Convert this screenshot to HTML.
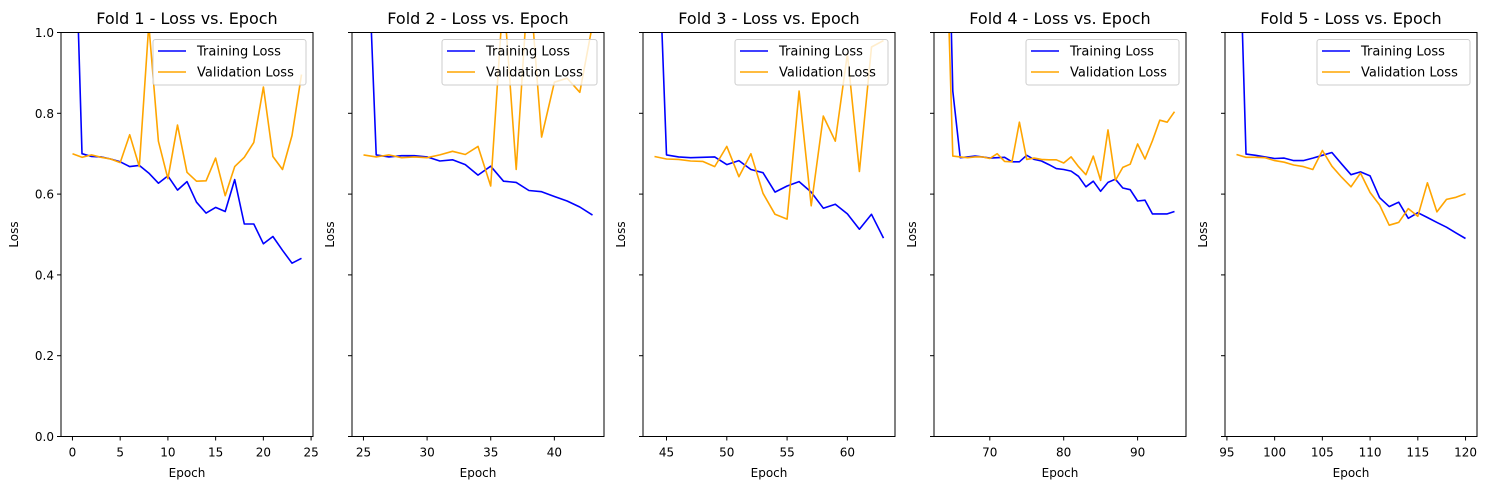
<!DOCTYPE html>
<html><head><meta charset="utf-8"><style>
html,body{margin:0;padding:0;background:#fff}
svg{display:block;font-family:"DejaVu Sans","Liberation Sans",sans-serif}
</style></head><body>
<svg id="chart" width="1487" height="490" viewBox="0 0 1487 490" xmlns="http://www.w3.org/2000/svg"></svg>
<script>
const foldStarts = [0, 25, 44, 64, 96];
const xTicks1 = [0,5,10,15,20,25];
const xTicks2 = [25,30,35,40];
const xTicks3 = [45,50,55,60];
const xTicks4 = [70,80,90];
const xTicks5 = [95,100,105,110,115,120];
const yTicks = [0.0,0.2,0.4,0.6,0.8,1.0];
const yTickLabels = ["0.0","0.2","0.4","0.6","0.8","1.0"];
const train1 = [1.5,0.70,0.693,0.692,0.687,0.68,0.668,0.671,0.652,0.627,0.645,0.61,0.631,0.58,0.553,0.567,0.557,0.636,0.526,0.526,0.477,0.495,0.461,0.429,0.441];
const val1 = [0.70,0.691,0.697,0.691,0.687,0.678,0.747,0.668,1.02,0.731,0.638,0.771,0.654,0.632,0.633,0.689,0.596,0.668,0.691,0.728,0.865,0.693,0.661,0.745,0.896];
const train2 = [1.5,0.697,0.692,0.695,0.695,0.692,0.682,0.685,0.673,0.647,0.669,0.632,0.629,0.609,0.606,0.594,0.583,0.568,0.548];
const val2 = [0.697,0.692,0.697,0.69,0.692,0.69,0.697,0.706,0.698,0.718,0.62,1.1,0.661,1.15,0.741,0.877,0.887,0.852,1.02];
const train3 = [1.5,0.697,0.692,0.69,0.691,0.692,0.673,0.683,0.661,0.653,0.605,0.62,0.631,0.605,0.565,0.575,0.551,0.513,0.55,0.491];
const val3 = [0.693,0.687,0.686,0.682,0.681,0.668,0.718,0.643,0.70,0.602,0.55,0.538,0.855,0.571,0.793,0.731,0.947,0.656,0.964,0.98];
const train4 = [1.6,0.855,0.69,0.692,0.694,0.692,0.689,0.69,0.691,0.68,0.68,0.696,0.686,0.682,0.673,0.663,0.661,0.657,0.644,0.618,0.632,0.607,0.629,0.637,0.615,0.611,0.583,0.585,0.551,0.551,0.551,0.557];
const val4 = [1.3,0.694,0.692,0.69,0.692,0.692,0.688,0.70,0.681,0.68,0.778,0.686,0.689,0.686,0.685,0.685,0.677,0.692,0.668,0.648,0.694,0.634,0.759,0.634,0.666,0.674,0.724,0.687,0.732,0.783,0.778,0.804];
const train5 = [1.5,0.699,0.696,0.692,0.688,0.689,0.683,0.683,0.689,0.696,0.703,0.675,0.648,0.655,0.645,0.591,0.569,0.58,0.54,0.554,0.542,0.53,0.518,0.504,0.49];
const val5 = [0.698,0.691,0.691,0.69,0.683,0.679,0.672,0.668,0.661,0.708,0.669,0.642,0.618,0.652,0.604,0.573,0.523,0.53,0.564,0.545,0.628,0.556,0.587,0.592,0.601];

const trains=[train1,train2,train3,train4,train5];
const vals=[val1,val2,val3,val4,val5];
const ticksAll=[xTicks1,xTicks2,xTicks3,xTicks4,xTicks5];
const NS="http://www.w3.org/2000/svg";
const svg=document.getElementById('chart');
function mk(tag,attrs,parent){const e=document.createElementNS(NS,tag);for(const k in attrs)e.setAttribute(k,attrs[k]);(parent||svg).appendChild(e);return e;}
const lefts=[61,352,643,934,1225], W=252, TOP=32.5, BOT=436.5;
function yS(v){return BOT-(v/1.0)*(BOT-TOP);}
for(let p=0;p<5;p++){
  const L=lefts[p], tr=trains[p], va=vals[p], s=foldStarts[p], e=s+tr.length-1;
  const pad=(e-s)*0.05, x0=s-pad, x1=e+pad;
  const xS=v=>L+(v-x0)/(x1-x0)*W;
  const g=mk('g',{});
  
  
  const cp=mk('clipPath',{id:'cp'+p},g);
  mk('rect',{x:L,y:TOP,width:W,height:BOT-TOP},cp);
  const t=mk('text',{x:L+W/2,y:24,'text-anchor':'middle','font-size':16,fill:'#000'},g);
  t.textContent='Fold '+(p+1)+' - Loss vs. Epoch';
  
  
  const lines=[[tr,'#0000ff','training-loss-line'],[va,'#ffa500','validation-loss-line']];
  for(const [arr,col,nm] of lines){
    const pts=arr.map((v,i)=>xS(s+i).toFixed(1)+','+yS(v).toFixed(1)).join(' ');
    const pl=mk('polyline',{points:pts,fill:'none',stroke:col,'stroke-width':1.6,'clip-path':'url(#cp'+p+')','stroke-linejoin':'round'},g);
    
    
  }
  const fr=mk('rect',{x:L,y:TOP,width:W,height:BOT-TOP,fill:'none',stroke:'#000','stroke-width':1},g);
  
  
  for(const tv of ticksAll[p]){
    const x=xS(tv);
    mk('line',{x1:x,x2:x,y1:BOT,y2:BOT+4,stroke:'#000'},g);
    const tl=mk('text',{x:x,y:BOT+20,'text-anchor':'middle','font-size':12,fill:'#000'},g);
    tl.textContent=tv;
    
    
  }
  yTicks.forEach((v,i)=>{
    const y=yS(v);
    mk('line',{x1:L-4,x2:L,y1:y,y2:y,stroke:'#000'},g);
    if(p===0){
      const yl=mk('text',{x:L-7,y:y+4.5,'text-anchor':'end','font-size':12,fill:'#000'},g);
      yl.textContent=yTickLabels[i];
      
      
    }
  });
  const xl=mk('text',{x:L+W/2,y:477,'text-anchor':'middle','font-size':12,fill:'#000'},g);
  xl.textContent='Epoch';
  
  
  const yx=L-(p===0?43:18);
  const ylab=mk('text',{x:yx,y:(TOP+BOT)/2,'text-anchor':'middle','font-size':12,fill:'#000',transform:'rotate(-90 '+yx+' '+(TOP+BOT)/2+')'},g);
  ylab.textContent='Loss';
  
  
  const lg=mk('g',{},g);
  
  
  const lw=(p===1?155:153), lx=L+W-8-lw+1;
  mk('rect',{x:lx,y:39.5,width:lw,height:45.5,rx:2.5,fill:'#fff','fill-opacity':0.8,stroke:'#ccc','stroke-width':1},lg);
  [['Training Loss','#0000ff',51],['Validation Loss','#ffa500',72]].forEach(([txt,col,y])=>{
    mk('line',{x1:lx+5,x2:lx+33,y1:y,y2:y,stroke:col,'stroke-width':1.6},lg);
    const tt=mk('text',{x:lx+44,y:y+4.5,'font-size':13,fill:'#000'},lg);
    tt.textContent=txt;
    
    
  });
}
</script>
</body></html>
